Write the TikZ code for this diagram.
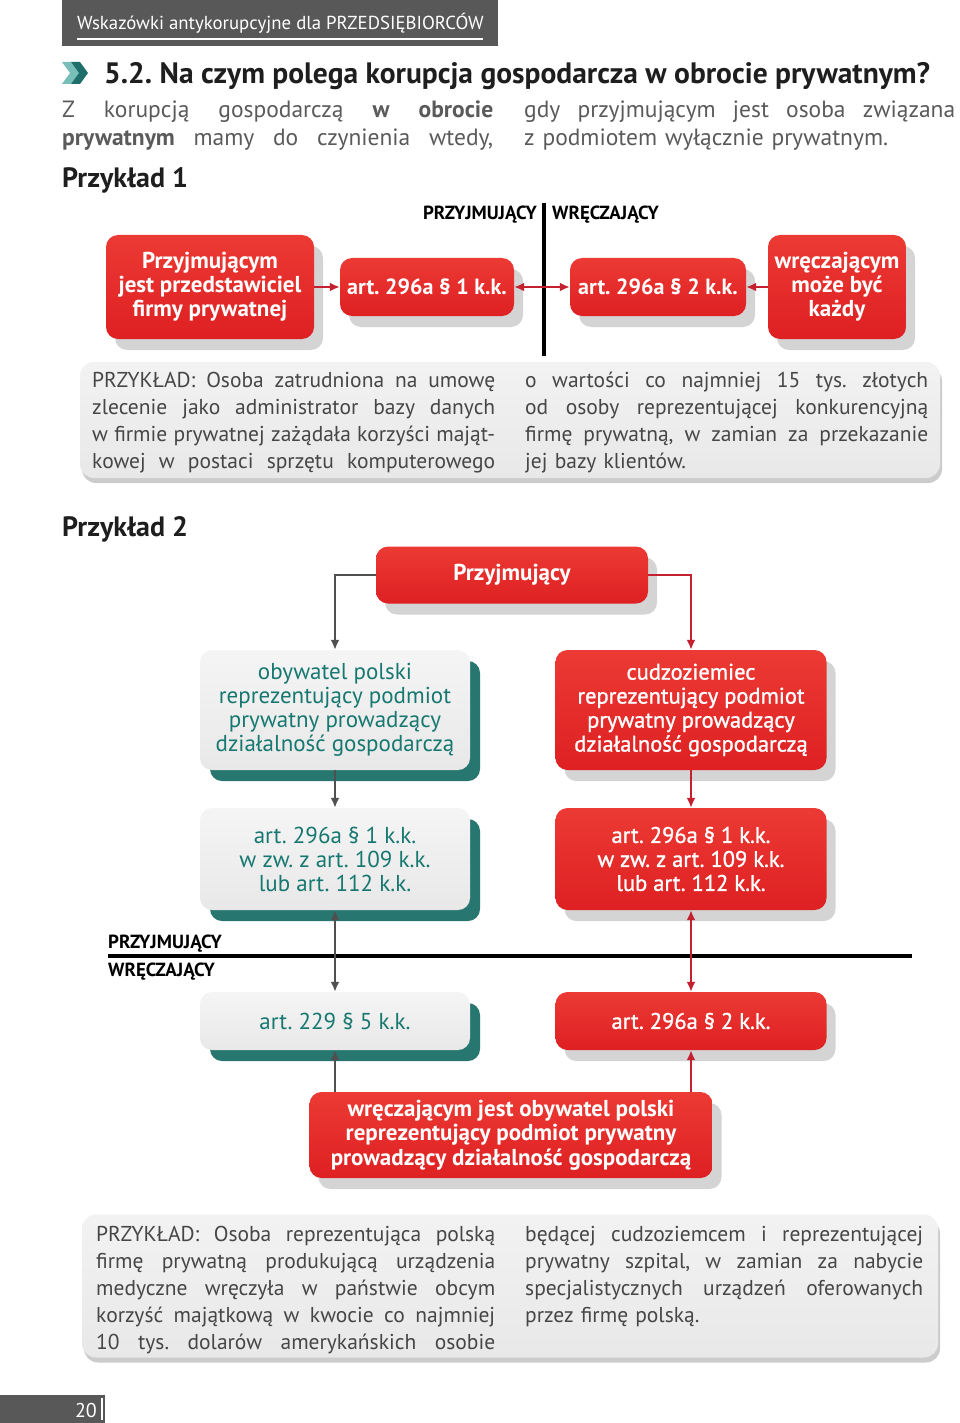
\documentclass[tikz,border=0pt]{standalone}
\usepackage{fontspec}
\setmainfont{PT Sans}
\newfontfamily\semifont{PT Sans}[FakeBold=1.2]
\usetikzlibrary{positioning,shadows,arrows.meta,calc}
\frenchspacing

\definecolor{pagegray}{RGB}{88,88,89}
\definecolor{titleblack}{RGB}{30,30,30}
\definecolor{textgray}{RGB}{90,90,90}
\definecolor{paneltext}{RGB}{70,70,70}
\definecolor{boxred}{RGB}{222,32,34}
\definecolor{boxredlight}{RGB}{236,58,52}
\definecolor{arrowred}{RGB}{196,32,48}
\definecolor{linegray}{RGB}{80,80,80}
\definecolor{tealtext}{RGB}{22,120,112}
\definecolor{tealshade}{RGB}{40,118,112}
\definecolor{iconlight}{RGB}{120,190,185}
\definecolor{icondark}{RGB}{30,110,105}

\newcommand{\fs}[2]{\fontsize{#1}{#2}\selectfont}
% justified lines of a column, \cw is the column width
\newcommand{\jl}[1]{\noindent\hbox to \cw{\spaceskip=0pt\xspaceskip=0pt #1}\\}
\newcommand{\jlast}[1]{\noindent\hbox to \cw{\spaceskip=0pt\xspaceskip=0pt #1}}

\begin{document}
\begin{tikzpicture}[x=1pt, y=-1pt,
    >={Latex[length=10pt,width=9pt]},
    redbox/.style={rectangle, rounded corners=12pt, top color=boxredlight, bottom color=boxred, text=white, align=center, inner sep=2pt,
        font=\bfseries\fs{23}{24},
        drop shadow={shadow xshift=9pt, shadow yshift=-11pt, fill=black!17, opacity=1}},
    redcase/.style={redbox, minimum width=271pt, font=\semifont\fs{22.5}{24}},
    tealbox/.style={rectangle, rounded corners=12pt, top color=black!4, bottom color=black!9, text=tealtext, align=center, inner sep=2pt,
        minimum width=270pt, font=\fs{23}{24},
        drop shadow={shadow xshift=10pt, shadow yshift=-11pt, fill=tealshade, opacity=1}},
    panel/.style={rectangle, rounded corners=14pt, top color=black!5, bottom color=black!9,
        drop shadow={shadow xshift=2pt, shadow yshift=-5pt, fill=black!20, opacity=1}},
    coltext/.style={anchor=base west, text width=403pt, inner sep=0pt, align=left, text=paneltext, font=\fs{21.5}{27}},
    label/.style={inner sep=0pt, font=\bfseries\fs{19}{20}, text=black},
    heading/.style={anchor=base west, inner sep=0pt, font=\bfseries\fs{28}{32}, text=titleblack},
    redarrow/.style={draw=arrowred, line width=2.2pt},
    grayarrow/.style={draw=linegray, line width=2.2pt}
]
    \useasboundingbox (0,0) rectangle (960,1423);
    \fill[white] (0,0) rectangle (960,1423);

    % Page header
    \fill[pagegray] (62,0) rectangle (498,46);
    \node[anchor=base west, inner sep=0pt, text=white, font=\fs{18.8}{22}] (hdr) at (77,30) {Wskazówki antykorupcyjne dla PRZEDSIĘBIORCÓW};
    \draw[white, line width=1.2pt] (77,39) -- (483,39);

    % Title with icon
    \fill[iconlight] (62,62) -- (71,62) -- (79,73) -- (71,84) -- (62,84) -- (70,73) -- cycle;
    \fill[icondark] (71,62) -- (80,62) -- (88,73) -- (80,84) -- (71,84) -- (79,73) -- cycle;
    \node[heading, font=\bfseries\fs{29.5}{32}] (title) at (104,84) {5.2. Na czym polega korupcja gospodarcza w obrocie prywatnym?};

    % Intro
    \node[anchor=base west, text width=431pt, inner sep=0pt, align=left, text=textgray, font=\fs{23.5}{28}] (intro1) at (62,118)
        {\def\cw{431pt}\jl{Z korupcją gospodarczą \textbf{w} \textbf{obrocie}}\jlast{\textbf{prywatnym} mamy do czynienia wtedy,}};
    \node[anchor=base west, text width=431pt, inner sep=0pt, align=left, text=textgray, font=\fs{23.5}{28}] (intro2) at (524,118)
        {\def\cw{431pt}\jl{gdy przyjmującym jest osoba związana}z podmiotem wyłącznie prywatnym.};

    % Example 1
    \node[heading] (ex1head) at (62,188) {Przykład 1};
    \coordinate (divtop) at (544,203);
    \coordinate (divbot) at (544,356);
    \draw[line width=3.5pt] (divtop) -- (divbot);
    \node[label, anchor=base east] (recvlbl1) at (537,220) {PRZYJMUJĄCY};
    \node[label, anchor=base west] (givelbl1) at (552,220) {WRĘCZAJĄCY};

    \node[redbox, minimum width=208pt, minimum height=104pt] (recv1) at (210,287) {Przyjmującym\\jest przedstawiciel\\firmy prywatnej};
    \node[redbox, minimum width=174pt, minimum height=58pt, font=\bfseries\fs{22}{24}] (art1) at (427,287) {art. 296a § 1 k.k.};
    \node[redbox, minimum width=176pt, minimum height=58pt, font=\bfseries\fs{22}{24}] (art2) at (658,287) {art. 296a § 2 k.k.};
    \node[redbox, minimum width=138pt, minimum height=104pt] (give1) at (837,287) {wręczającym\\może być\\każdy};

    \draw[redarrow, ->] (recv1) -- (art1);
    \draw[redarrow, <->] (art1) -- (art2);
    \draw[redarrow, ->] (give1) -- (art2);

    \node[panel, minimum width=860pt, minimum height=116pt] (panel1) at (510,420) {};
    \node[coltext] (case1a) at (92,387)
        {\def\cw{403pt}\jl{PRZYKŁAD: Osoba zatrudniona na umowę}\jl{zlecenie jako administrator bazy danych}\jl{w firmie prywatnej zażądała korzyści mająt-}\jlast{kowej w postaci sprzętu komputerowego}};
    \node[coltext] (case1b) at (525,387)
        {\def\cw{403pt}\jl{o wartości co najmniej 15 tys. złotych}\jl{od osoby reprezentującej konkurencyjną}\jl{firmę prywatną, w zamian za przekazanie}jej bazy klientów.};

    % Example 2
    \node[heading] (ex2head) at (62,536) {Przykład 2};

    \node[redbox, minimum width=272pt, minimum height=57pt] (recv2) at (512,575) {Przyjmujący};
    \node[tealbox, minimum height=120pt] (polish) at (335,710) {obywatel polski\\reprezentujący podmiot\\prywatny prowadzący\\działalność gospodarczą};
    \node[redcase, minimum height=120pt] (foreign) at (691,710) {cudzoziemiec\\reprezentujący podmiot\\prywatny prowadzący\\działalność gospodarczą};
    \node[tealbox, minimum height=102pt] (polart) at (335,859) {art. 296a § 1 k.k.\\w zw. z art. 109 k.k.\\lub art. 112 k.k.};
    \node[redcase, minimum height=102pt] (forart) at (691,859) {art. 296a § 1 k.k.\\w zw. z art. 109 k.k.\\lub art. 112 k.k.};

    \coordinate (sideleft) at (108,956);
    \coordinate (sideright) at (912,956);
    \draw[line width=4pt] (sideleft) -- (sideright);
    \node[label, anchor=base west] (recvlbl2) at (108,948) {PRZYJMUJĄCY};
    \node[label, anchor=base west] (givelbl2) at (108,976) {WRĘCZAJĄCY};

    \node[tealbox, minimum height=58pt] (polgive) at (335,1021) {art. 229 § 5 k.k.};
    \node[redcase, minimum height=58pt] (forgive) at (691,1021) {art. 296a § 2 k.k.};
    \node[redbox, minimum width=403pt, minimum height=86pt, font=\bfseries\fs{23}{24.5}] (give2) at (511,1135) {wręczającym jest obywatel polski\\reprezentujący podmiot prywatny\\prowadzący działalność gospodarczą};

    \draw[grayarrow, ->] (recv2.west) -| (polish.north);
    \draw[redarrow, ->] (recv2.east) -| (foreign.north);
    \draw[grayarrow, ->] (polish) -- (polart);
    \draw[redarrow, ->] (foreign) -- (forart);
    \draw[grayarrow, <->] (polart) -- (polgive);
    \draw[redarrow, <->] (forart) -- (forgive);
    \draw[grayarrow, ->] (give2.north -| polgive.south) -- (polgive.south);
    \draw[redarrow, ->] (give2.north -| forgive.south) -- (forgive.south);

    \node[panel, minimum width=856pt, minimum height=143pt] (panel2) at (510,1286) {};
    \node[coltext, text width=399pt] (case2a) at (96,1241)
        {\def\cw{399pt}\jl{PRZYKŁAD: Osoba reprezentująca polską}\jl{firmę prywatną produkującą urządzenia}\jl{medyczne wręczyła w państwie obcym}\jl{korzyść majątkową w kwocie co najmniej}\jlast{10 tys. dolarów amerykańskich osobie}};
    \node[coltext, text width=398pt] (case2b) at (525,1241)
        {\def\cw{398pt}\jl{będącej cudzoziemcem i reprezentującej}\jl{prywatny szpital, w zamian za nabycie}\jl{specjalistycznych urządzeń oferowanych}przez firmę polską.};

    % Page number
    \fill[pagegray] (0,1395) rectangle (105,1423);
    \node[anchor=base east, inner sep=0pt, text=white, font=\fs{20}{22}] (pagenum) at (97,1417) {20};
    \draw[white, line width=1.3pt] (102,1398) -- (102,1420);
\end{tikzpicture}
\end{document}
